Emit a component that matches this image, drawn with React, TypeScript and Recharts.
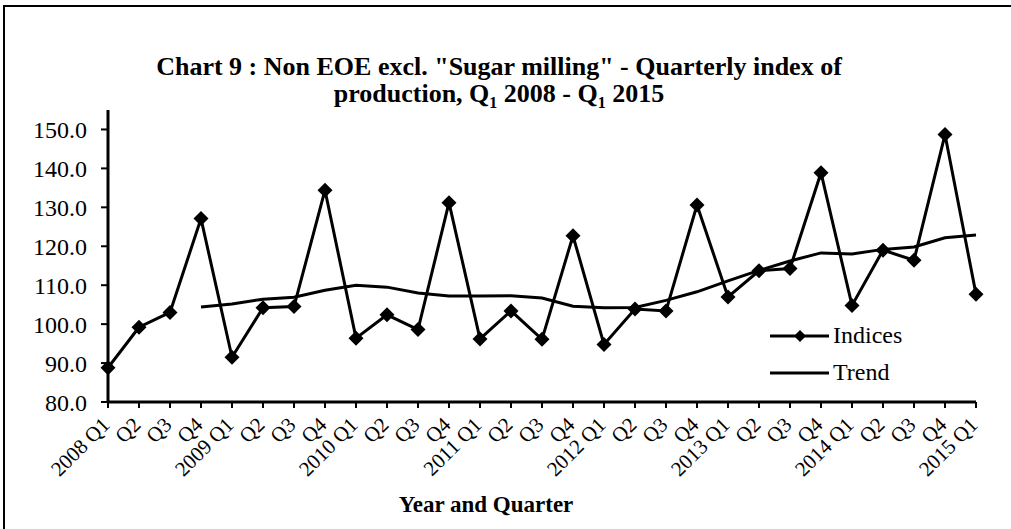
import React from 'react';
import { LineChart, Line, XAxis, YAxis } from 'recharts';

const quarters = [
  '2008 Q1', 'Q2', 'Q3', 'Q4',
  '2009 Q1', 'Q2', 'Q3', 'Q4',
  '2010 Q1', 'Q2', 'Q3', 'Q4',
  '2011 Q1', 'Q2', 'Q3', 'Q4',
  '2012 Q1', 'Q2', 'Q3', 'Q4',
  '2013 Q1', 'Q2', 'Q3', 'Q4',
  '2014 Q1', 'Q2', 'Q3', 'Q4',
  '2015 Q1',
];

const indices = [
  88.8, 99.2, 103.0, 127.1,
  91.5, 104.2, 104.5, 134.4,
  96.4, 102.4, 98.6, 131.2,
  96.2, 103.4, 96.1, 122.7,
  94.8, 103.9, 103.4, 130.6,
  107.0, 113.7, 114.3, 138.9,
  104.8, 119.0, 116.4, 148.7,
  107.7,
];

const trend: (number | null)[] = [
  null, null, null, 104.4,
  105.2, 106.4, 106.9, 108.7,
  110.0, 109.5, 108.0, 107.2,
  107.2, 107.3, 106.7, 104.6,
  104.2, 104.3, 106.1, 108.3,
  111.1, 113.8, 116.2, 118.3,
  118.0, 119.2, 119.8, 122.2,
  122.9,
];

const yTicks = [80, 90, 100, 110, 120, 130, 140, 150];
const xTicks = quarters.map((_, i) => i);

const data = quarters.map((q, i) => ({ q, idx: i, indices: indices[i], trend: trend[i] }));

const FONT = '"Liberation Serif", "Times New Roman", serif';

const Diamond = (props: any) => {
  const { cx, cy, index } = props;
  if (cx == null || cy == null) return null;
  const r = 7.5;
  return (
    <polygon
      key={`d-${index}`}
      points={`${cx},${cy - r} ${cx + r},${cy} ${cx},${cy + r} ${cx - r},${cy}`}
      fill="#000"
      stroke="none"
    />
  );
};

const XTick = (props: any) => {
  const { x, y, payload } = props;
  const label = quarters[payload.value] ?? '';
  return (
    <g transform={`translate(${x + 3},${y + 16})`}>
      <text
        x={0}
        y={0}
        textAnchor="end"
        transform="rotate(-45)"
        style={{ fontFamily: FONT, fontSize: 21 }}
        fill="#000"
      >
        {label}
      </text>
    </g>
  );
};

export default function App() {
  return (
    <div
      style={{
        position: 'absolute',
        left: 0,
        top: 0,
        width: 1011,
        height: 529,
        overflow: 'hidden',
        background: '#fff',
        fontFamily: FONT,
      }}
    >
      <div
        style={{
          position: 'absolute',
          left: 3,
          top: 5,
          width: 1200,
          height: 800,
          border: '2px solid #000',
        }}
      />
      <div
        style={{
          position: 'absolute',
          left: 0,
          top: 53,
          width: 998,
          textAlign: 'center',
          fontWeight: 'bold',
          fontSize: 26,
          lineHeight: '27px',
          color: '#000',
        }}
      >
        <div style={{ height: 27 }}>Chart 9 : Non EOE excl. "Sugar milling" - Quarterly index of</div>
        <div style={{ height: 27 }}>
          production, Q<sub style={{ fontSize: 16, lineHeight: 0 }}>1</sub> 2008 - Q
          <sub style={{ fontSize: 16, lineHeight: 0 }}>1</sub> 2015
        </div>
      </div>
      <div
        style={{
          position: 'absolute',
          left: 386,
          top: 492,
          width: 200,
          textAlign: 'center',
          fontWeight: 'bold',
          fontSize: 23,
          lineHeight: '26px',
          color: '#000',
        }}
      >
        Year and Quarter
      </div>
      <div
        style={{
          position: 'absolute',
          left: 768,
          top: 317,
          fontSize: 24,
          color: '#000',
          lineHeight: '37px',
        }}
      >
        <div style={{ display: 'flex', alignItems: 'center' }}>
          <svg width={62} height={20}>
            <line x1={2} y1={10} x2={61} y2={10} stroke="#000" strokeWidth={3} />
            <polygon points="32,4 38,10 32,16 26,10" fill="#000" />
          </svg>
          <span style={{ marginLeft: 3 }}>Indices</span>
        </div>
        <div style={{ display: 'flex', alignItems: 'center' }}>
          <svg width={62} height={20}>
            <line x1={2} y1={10} x2={61} y2={10} stroke="#000" strokeWidth={3} />
          </svg>
          <span style={{ marginLeft: 3 }}>Trend</span>
        </div>
      </div>
      <div style={{ position: 'absolute', left: 0, top: 0 }}>
        <LineChart
          width={1011}
          height={529}
          data={data}
          margin={{ top: 110, right: 35, bottom: 0, left: 0 }}
        >
          <XAxis
            dataKey="idx"
            type="number"
            domain={[0, 28]}
            ticks={xTicks}
            interval={0}
            height={127}
            tick={<XTick />}
            tickSize={6}
            axisLine={{ stroke: '#000', strokeWidth: 3 }}
            tickLine={{ stroke: '#000', strokeWidth: 2 }}
          />
          <YAxis
            domain={[80, 155]}
            ticks={yTicks}
            interval={0}
            type="number"
            width={108}
            allowDataOverflow
            tickFormatter={(v: number) => v.toFixed(1)}
            tick={{ fontFamily: FONT, fontSize: 24, fill: '#000' }}
            tickSize={7}
            tickMargin={14}
            axisLine={{ stroke: '#000', strokeWidth: 3 }}
            tickLine={{ stroke: '#000', strokeWidth: 2 }}
          />
          <Line
            dataKey="trend"
            name="Trend"
            stroke="#000"
            strokeWidth={3}
            dot={false}
            activeDot={false}
            connectNulls={false}
            isAnimationActive={false}
            type="linear"
          />
          <Line
            dataKey="indices"
            name="Indices"
            stroke="#000"
            strokeWidth={3}
            dot={<Diamond />}
            activeDot={false}
            isAnimationActive={false}
            type="linear"
          />
        </LineChart>
      </div>
    </div>
  );
}
